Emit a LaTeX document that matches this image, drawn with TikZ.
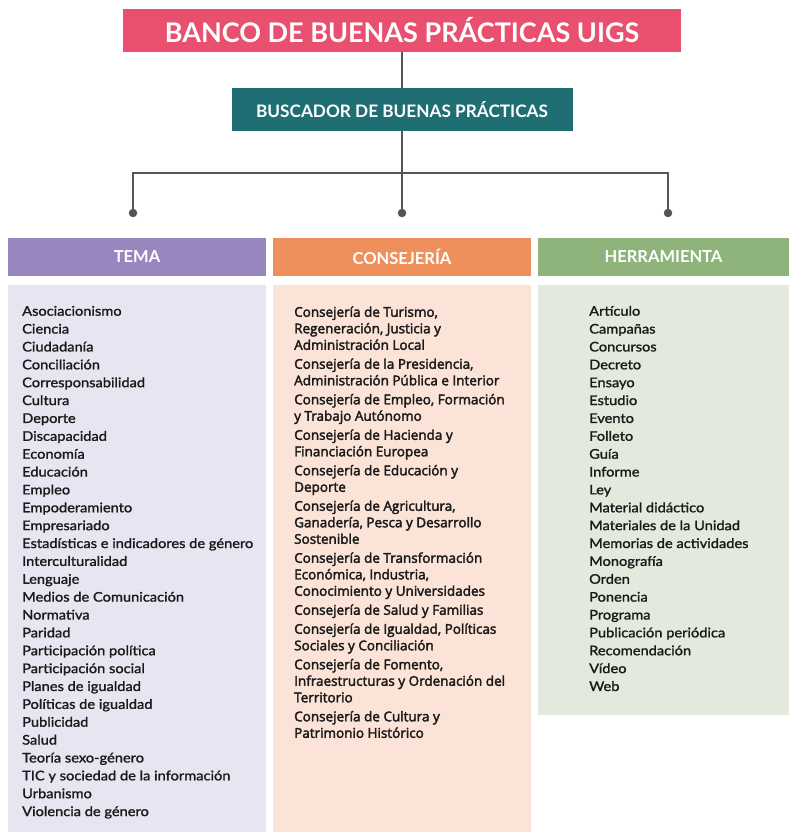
\documentclass[tikz,border=0pt]{standalone}
\usepackage{fontspec}
\setmainfont{Lato}
\newfontfamily\consfont[FakeBold=2.6]{Open Sans}
\newfontfamily\listfont[FakeBold=1.4,FakeStretch=1.1]{Lato}
\definecolor{titlepink}{HTML}{E9506F}
\definecolor{teal}{HTML}{1F6E73}
\definecolor{hpurple}{HTML}{9A86BF}
\definecolor{bpurple}{HTML}{E8E4F1}
\definecolor{horange}{HTML}{EF905C}
\definecolor{borange}{HTML}{FCE3D7}
\definecolor{hgreen}{HTML}{8EB47B}
\definecolor{bgreen}{HTML}{E3E9DC}
\definecolor{linegray}{HTML}{555555}
\definecolor{txt}{HTML}{1A1A1A}
\tikzset{
  box/.style={draw=none, inner sep=0pt, outer sep=0pt},
  hdr/.style={box, text=white, font=\bfseries\fontsize{16.5}{18}\selectfont},
  conn/.style={draw=linegray, line width=1.8pt},
  dotnode/.style={circle, fill=linegray, inner sep=0pt, minimum size=8.5pt},
  item/.style={anchor=base west, inner sep=0pt, text=txt, font=\listfont\fontsize{13.3}{15}\selectfont},
  citem/.style={anchor=base west, inner sep=0pt, text=txt, font=\consfont\fontsize{13.5}{15}\selectfont},
}
\begin{document}
\begin{tikzpicture}[x=1pt,y=-1pt]
\useasboundingbox (0,0) rectangle (789,834);
\fill[white] (0,0) rectangle (789,834);
% top boxes
\node[box, fill=titlepink, minimum width=558pt, minimum height=43pt, text=white,
      font=\bfseries\fontsize{27}{30}\selectfont] (title) at (402,30.5) {BANCO DE BUENAS PRÁCTICAS UIGS};
\node[box, fill=teal, minimum width=341pt, minimum height=43pt, text=white,
      font=\bfseries\fontsize{17.2}{19}\selectfont] (busc) at (402,109.5) {BUSCADOR DE BUENAS PRÁCTICAS};
% dots
\node[dotnode] (d1) at (133,213) {};
\node[dotnode] (d2) at (402,213) {};
\node[dotnode] (d3) at (668,213) {};
\coordinate (j) at (402,173);
\draw[conn] (title.south) -- (busc.north);
\draw[conn] (busc.south) -- (d2.center);
\draw[conn] (d1.center) |- (j) -| (d3.center);
% headers
\node[hdr, fill=hpurple, minimum width=258pt, minimum height=38pt] (h1) at (137,257) {TEMA};
\node[hdr, fill=horange, minimum width=258pt, minimum height=38pt] (h2) at (402,257) {CONSEJERÍA};
\node[hdr, fill=hgreen, minimum width=251pt, minimum height=38pt] (h3) at (663.5,257) {HERRAMIENTA};
% bodies
\fill[bpurple] (8,285) rectangle (266,832);
\fill[borange] (273,285) rectangle (531,832);
\fill[bgreen] (538,285) rectangle (789,715);
% TEMA list
\foreach \t [count=\i] in {Asociacionismo,Ciencia,Ciudadanía,Conciliación,Corresponsabilidad,Cultura,Deporte,Discapacidad,Economía,Educación,Empleo,Empoderamiento,Empresariado,Estadísticas e indicadores de género,Interculturalidad,Lenguaje,Medios de Comunicación,Normativa,Paridad,Participación política,Participación social,Planes de igualdad,Políticas de igualdad,Publicidad,Salud,Teoría sexo-género,TIC y sociedad de la información,Urbanismo,Violencia de género}
  \node[item] (t\i) at (22,{315.7+17.87*(\i-1)}) {\t};
% HERRAMIENTA list
\foreach \t [count=\i] in {Artículo,Campañas,Concursos,Decreto,Ensayo,Estudio,Evento,Folleto,Guía,Informe,Ley,Material didáctico,Materiales de la Unidad,Memorias de actividades,Monografía,Orden,Ponencia,Programa,Publicación periódica,Recomendación,Vídeo,Web}
  \node[item] (r\i) at (589,{315.7+17.87*(\i-1)}) {\t};
% CONSEJERIA list
\foreach \l/\e/\t in {0/0/{Consejería de Turismo,},1/0/{Regeneración, Justicia y},2/0/{Administración Local},
  3/1/{Consejería de la Presidencia,},4/1/{Administración Pública e Interior},
  5/2/{Consejería de Empleo, Formación},6/2/{y Trabajo Autónomo},
  7/3/{Consejería de Hacienda y},8/3/{Financiación Europea},
  9/4/{Consejería de Educación y},10/4/{Deporte},
  11/5/{Consejería de Agricultura,},12/5/{Ganadería, Pesca y Desarrollo},13/5/{Sostenible},
  14/6/{Consejería de Transformación},15/6/{Económica, Industria,},16/6/{Conocimiento y Universidades},
  17/7/{Consejería de Salud y Familias},
  18/8/{Consejería de Igualdad, Políticas},19/8/{Sociales y Conciliación},
  20/9/{Consejería de Fomento,},21/9/{Infraestructuras y Ordenación del},22/9/{Territorio},
  23/10/{Consejería de Cultura y},24/10/{Patrimonio Histórico}}
  \node[citem] (c\l) at (294,{316.8+16.5*\l+2.5*\e}) {\t};
\end{tikzpicture}
\end{document}
